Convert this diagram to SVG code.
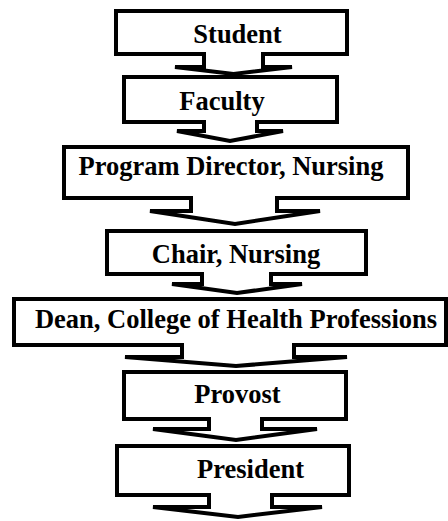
<svg xmlns="http://www.w3.org/2000/svg" width="448" height="521" viewBox="0 0 448 521">
<style>
.box{fill:#fff;stroke:#000;stroke-width:4;stroke-linecap:square;stroke-linejoin:miter}
.arr{fill:#fff;stroke:#000;stroke-width:4;stroke-linecap:square;stroke-linejoin:miter}
text{font-family:'Liberation Serif','DejaVu Serif',serif;font-weight:bold;font-size:26.5px;fill:#000;text-anchor:middle}
</style>
<rect width="448" height="521" fill="#fff"/>
<g id="connectors">
<path class="arr" d="M204,54 V67 H175 L233.5,74 L292,67 H263 V54"/>
<path class="arr" d="M204,122 V131 H177 L230,141 L283,131 H257 V122"/>
<path class="arr" d="M191,198 V211 H150 L235,224 L320,211 H277 V198"/>
<path class="arr" d="M202,274 V284 H172 L237,293 L302,284 H271 V274"/>
<path class="arr" d="M182,345 V357 H125 L236,366 L347,357 H294 V345"/>
<path class="arr" d="M209,419 V429 H153 L236,440 L317,429 H262 V419"/>
<path class="arr" d="M209,495 V507 H153 L238,517 L322,507 H272 V495"/>
</g>
<g id="student">
<path class="box" d="M204,54 H116 V11 H347 V54 H263"/>
<text x="237.5" y="43">Student</text>
</g>
<g id="faculty">
<path class="box" d="M204,122 H124 V77 H337 V122 H257"/>
<text x="222" y="110">Faculty</text>
</g>
<g id="program-director">
<path class="box" d="M191,198 H64 V147 H408 V198 H277"/>
<text x="231" y="175">Program Director, Nursing</text>
</g>
<g id="chair">
<path class="box" d="M202,274 H107 V231 H366 V274 H271"/>
<text x="236" y="263">Chair, Nursing</text>
</g>
<g id="dean">
<path class="box" d="M182,345 H14 V299 H446 V345 H294"/>
<text x="236" y="328">Dean, College of Health Professions</text>
</g>
<g id="provost">
<path class="box" d="M209,419 H124 V372 H346 V419 H262"/>
<text x="237.5" y="403">Provost</text>
</g>
<g id="president">
<path class="box" d="M209,495 H117 V446 H349 V495 H272"/>
<text x="250.5" y="478">President</text>
</g>
</svg>
